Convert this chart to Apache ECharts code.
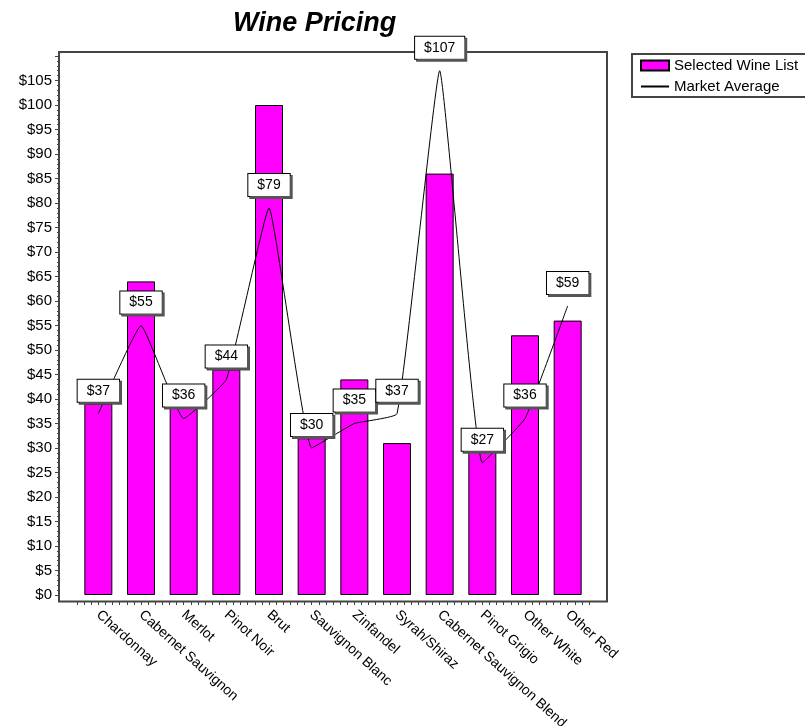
<!DOCTYPE html>
<html>
<head>
<meta charset="utf-8">
<script src="https://cdn.jsdelivr.net/npm/echarts@6/dist/echarts.min.js"></script>
<style>
  html, body { margin: 0; padding: 0; background: #fff; }
  #WinePricingChart { width: 805px; height: 726px; }
</style>
</head>
<body>
<div id="WinePricingChart"></div>
<script>
// Wine Pricing - bar + line

var wineNames = ['Chardonnay', 'Cabernet Sauvignon', 'Merlot', 'Pinot Noir', 'Brut',
  'Sauvignon Blanc', 'Zinfandel', 'Syrah/Shiraz', 'Cabernet Sauvignon Blend',
  'Pinot Grigio', 'Other White', 'Other Red'];
var selectedPrices = [39, 64, 43, 46, 100, 32, 44, 31, 86, 30, 53, 56];
var marketAverage = [37, 55, 36, 44, 79, 30, 35, 37, 107, 27, 36, 59];

var fontName = '"Liberation Sans", Arial, sans-serif';

var chartDom = document.getElementById('WinePricingChart');
var chart = echarts.init(chartDom);

var option = {
  animation: false,
  title: {
    text: 'Wine Pricing',
    left: 228,
    top: 5,
    textStyle: {
      fontFamily: fontName,
      fontSize: 27,
      fontWeight: 'bold',
      fontStyle: 'italic',
      color: '#000'
    }
  },
  legend: {
    orient: 'vertical',
    left: 640,
    top: 58,
    itemWidth: 28,
    itemHeight: 10,
    itemGap: 6,
    padding: 0,
    textStyle: { fontFamily: fontName, fontSize: 15, color: '#000' },
    data: [
      { name: 'Selected Wine List', icon: 'rect' },
      { name: 'Market Average' }
    ]
  },
  // grid 0 only carries the price axis on the frame, grid 1 holds the data
  grid: [
    { left: 59, width: 10, top: 56, bottom: 131, outerBoundsMode: 'none' },
    { left: 77, right: 216, top: 56, bottom: 131, outerBoundsMode: 'none' }
  ],
  xAxis: [
    {
      type: 'category',
      gridIndex: 1,
      data: wineNames,
      offset: 7,
      axisLine: { show: false },
      axisTick: { alignWithLabel: true, length: 5, lineStyle: { color: '#444' } },
      axisLabel: {
        interval: 0,
        rotate: -42,
        margin: 11,
        fontFamily: fontName,
        fontSize: 14,
        color: '#000'
      }
    },
    {
      // minor ticks along the bottom
      type: 'value',
      gridIndex: 1,
      position: 'bottom',
      min: 0,
      max: 72,
      interval: 1,
      offset: 7,
      axisLine: { show: false },
      axisTick: { length: 3, lineStyle: { color: '#444' } },
      axisLabel: { show: false },
      splitLine: { show: false }
    },
    {
      type: 'value',
      gridIndex: 0,
      show: false
    }
  ],
  yAxis: [
    {
      type: 'value',
      gridIndex: 1,
      min: 0,
      max: 110,
      show: false
    },
    {
      type: 'value',
      gridIndex: 0,
      min: 0,
      max: 110,
      interval: 5,
      axisLine: { show: false },
      axisTick: { show: true, length: 4, lineStyle: { color: '#444' } },
      minorTick: { show: true, splitNumber: 5, length: 2, lineStyle: { color: '#444' } },
      splitLine: { show: false },
      axisLabel: {
        margin: 7,
        fontFamily: fontName,
        fontSize: 15,
        color: '#000',
        formatter: function (v) { return v > 105 ? '' : '$' + v; }
      }
    }
  ],
  graphic: [
    {
      // plot frame
      type: 'rect',
      shape: { x: 59, y: 52, width: 548, height: 549.5 },
      style: { fill: 'none', stroke: '#444', lineWidth: 2 },
      z: 1
    },
    {
      // legend frame
      type: 'rect',
      shape: { x: 632, y: 54, width: 180, height: 43 },
      style: { fill: 'none', stroke: '#444', lineWidth: 2 },
      z: 1
    }
  ],
  series: [
    {
      name: 'Selected Wine List',
      type: 'bar',
      data: selectedPrices,
      barWidth: 28,
      itemStyle: { color: '#ff00ff', borderColor: '#000', borderWidth: 1 }
    },
    {
      name: 'Market Average',
      type: 'line',
      data: marketAverage,
      smooth: 0.1,
      symbol: 'circle',
      symbolSize: 2,
      lineStyle: { color: '#000', width: 1 },
      itemStyle: { color: 'rgba(0,0,0,0)' },
      label: {
        show: true,
        position: 'top',
        distance: 11,
        formatter: function (p) { return '$' + p.value; },
        fontFamily: fontName,
        fontSize: 14,
        lineHeight: 14,
        color: '#000',
        backgroundColor: '#fff',
        borderColor: '#000',
        borderWidth: 1,
        padding: [4, 9],
        shadowColor: '#555',
        shadowOffsetX: 2,
        shadowOffsetY: 2,
        shadowBlur: 0
      },
      z: 5
    }
  ]
};

chart.setOption(option);
</script>
</body>
</html>
